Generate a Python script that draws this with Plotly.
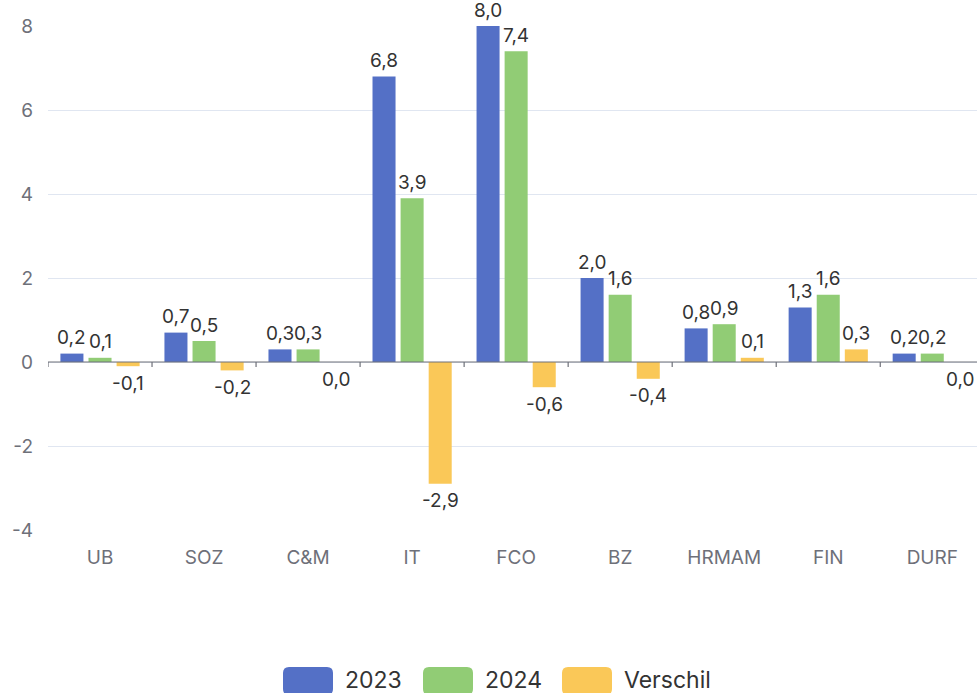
import plotly.graph_objects as go

categories = ["UB", "SOZ", "C&M", "IT", "FCO", "BZ", "HRMAM", "FIN", "DURF"]
series_names = ["2023", "2024", "Verschil"]
values_2023 = [0.2, 0.7, 0.3, 6.8, 8.0, 2.0, 0.8, 1.3, 0.2]
values_2024 = [0.1, 0.5, 0.3, 3.9, 7.4, 1.6, 0.9, 1.6, 0.2]
values_verschil = [-0.1, -0.2, 0.0, -2.9, -0.6, -0.4, 0.1, 0.3, 0.0]
y_ticks = [-4, -2, 0, 2, 4, 6, 8]

colors = ["#5470C6", "#91CC75", "#FAC858"]
series_values = [values_2023, values_2024, values_verschil]

W, H = 977, 693
ML, MR, MT, MB = 48, 0, 26, 163
BARGAP = 0.19
FONT = "Inter, 'Noto Sans', sans-serif"

fig = go.Figure()
for name, vals, col in zip(series_names, series_values, colors):
    fig.add_trace(go.Bar(x=categories, y=vals, name=name, marker_color=col,
                         marker_line_width=0))

# value labels
slot = (1 - BARGAP) / 3
annotations = []
for k, vals in enumerate(series_values):
    for i, v in enumerate(vals):
        pos = v > 0
        annotations.append(dict(
            x=i + (k - 1) * slot, y=v, xref="x", yref="y",
            text=f"{v:.1f}".replace(".", ","), showarrow=False,
            yanchor="middle", xanchor="center", yshift=16 if pos else -17,
            font=dict(family=FONT, size=19, color="#333333")))

# custom legend (pixel coordinates converted to paper)
pw, ph = W - ML - MR, H - MT - MB
def px(x):
    return (x - ML) / pw
def py(y):
    return (H - MB - y) / ph

def rrect(x0, y0, x1, y1, r):
    pts = [f"M{px(x0 + r)},{py(y0)}", f"L{px(x1 - r)},{py(y0)}",
           f"Q{px(x1)},{py(y0)} {px(x1)},{py(y0 + r)}", f"L{px(x1)},{py(y1 - r)}",
           f"Q{px(x1)},{py(y1)} {px(x1 - r)},{py(y1)}", f"L{px(x0 + r)},{py(y1)}",
           f"Q{px(x0)},{py(y1)} {px(x0)},{py(y1 - r)}", f"L{px(x0)},{py(y0 + r)}",
           f"Q{px(x0)},{py(y0)} {px(x0 + r)},{py(y0)}", "Z"]
    return " ".join(pts)

shapes = []
legend_x = [283, 423, 562]
for name, col, lx in zip(series_names, colors, legend_x):
    shapes.append(dict(type="path", xref="paper", yref="paper",
                       path=rrect(lx, 667, lx + 50, 695, 6),
                       fillcolor=col, line_width=0))
    annotations.append(dict(x=px(lx + 60), y=py(680), xref="paper", yref="paper",
                            text=name, showarrow=False, xanchor="left", yanchor="middle",
                            font=dict(family=FONT, size=23, color="#333333")))

# zero axis line with ticks
shapes.append(dict(type="line", xref="paper", yref="y", x0=0, x1=1, y0=0, y1=0,
                   line=dict(color="#6E7079", width=1.2), layer="above"))
for i in range(len(categories) + 1):
    shapes.append(dict(type="line", xref="x", yref="y", xsizemode="scaled",
                       ysizemode="pixel", yanchor=0, x0=i - 0.5, x1=i - 0.5,
                       y0=0, y1=-5, line=dict(color="#6E7079", width=1.2)))

fig.update_layout(
    width=W, height=H, margin=dict(l=ML, r=MR, t=MT, b=MB),
    paper_bgcolor="white", plot_bgcolor="white",
    barmode="group", bargap=BARGAP, bargroupgap=0.18,
    separators=", ", showlegend=False,
    font=dict(family=FONT),
    annotations=annotations, shapes=shapes,
    xaxis=dict(range=[-0.5, 8.43], showgrid=False, showline=False, ticks="",
               tickfont=dict(family=FONT, size=19, color="#6E7079"),
               ticklabelstandoff=14, fixedrange=True),
    yaxis=dict(range=[-4, 8], tickvals=y_ticks, ticktext=[str(t) for t in y_ticks],
               showgrid=True, gridcolor="#E0E6F1",
               gridwidth=1, zeroline=False, showline=False, ticks="",
               tickfont=dict(family=FONT, size=19, color="#6E7079"),
               ticklabelstandoff=14),
)

fig.write_html("out.html", config={"displayModeBar": False},
               post_script="document.body.style.margin='0';document.body.style.overflow='hidden';")
